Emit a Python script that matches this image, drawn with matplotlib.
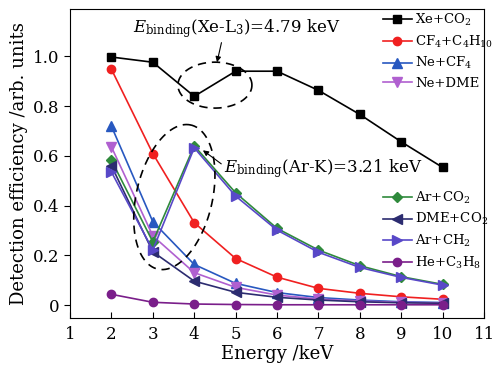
import numpy as np
import matplotlib
matplotlib.use("Agg")
import matplotlib.pyplot as plt

plt.rcParams['font.family'] = ['DejaVu Serif']
plt.rcParams['mathtext.fontset'] = 'dejavuserif'

energy = [2, 3, 4, 5, 6, 7, 8, 9, 10]

xe_co2 = [0.997, 0.976, 0.839, 0.940, 0.940, 0.863, 0.766, 0.656, 0.553]
cf4_c4h10 = [0.948, 0.609, 0.331, 0.187, 0.112, 0.067, 0.047, 0.033, 0.023]
ne_cf4 = [0.719, 0.335, 0.163, 0.087, 0.050, 0.030, 0.020, 0.013, 0.010]
ne_dme = [0.636, 0.278, 0.130, 0.071, 0.040, 0.024, 0.016, 0.011, 0.008]
ar_co2 = [0.582, 0.254, 0.640, 0.451, 0.308, 0.221, 0.158, 0.114, 0.083]
dme_co2 = [0.560, 0.214, 0.096, 0.051, 0.031, 0.020, 0.013, 0.009, 0.007]
ar_ch2 = [0.535, 0.221, 0.632, 0.438, 0.301, 0.212, 0.151, 0.111, 0.080]
he_c3h8 = [0.043, 0.011, 0.004, 0.002, 0.001, 0.001, 0.001, 0.001, 0.001]

fig = plt.figure(figsize=(4.95, 3.68), dpi=100)
ax = fig.add_axes([0.1414, 0.136, 0.8366, 0.8395])

l1, = ax.plot(energy, xe_co2, '-s', color='black', ms=5.5, lw=1.2, label=r'Xe+CO$_2$')
l2, = ax.plot(energy, cf4_c4h10, '-o', color='#f02020', ms=6, lw=1.2, label=r'CF$_4$+C$_4$H$_{10}$')
l3, = ax.plot(energy, ne_cf4, '-^', color='#2858c0', ms=6.5, lw=1.2, label=r'Ne+CF$_4$')
l4, = ax.plot(energy, ne_dme, '-v', color='#b060d0', ms=6.5, lw=1.2, label='Ne+DME')
l5, = ax.plot(energy, ar_co2, '-D', color='#2f8a3c', ms=5, lw=1.2, label=r'Ar+CO$_2$')
l6, = ax.plot(energy, dme_co2, '-<', color='#2c2c70', ms=6.5, lw=1.2, label=r'DME+CO$_2$')
l7, = ax.plot(energy, ar_ch2, '->', color='#5848c8', ms=6.5, lw=1.2, label=r'Ar+CH$_2$')
l8, = ax.plot(energy, he_c3h8, '-o', color='#7a1e8a', ms=6, lw=1.2, label=r'He+C$_3$H$_8$')

ax.set_xlim(1, 11)
ax.set_ylim(-0.052, 1.19)
ax.set_xticks(range(1, 12))
ax.set_yticks([0, 0.2, 0.4, 0.6, 0.8, 1.0])
ax.set_yticklabels(['0', '0.2', '0.4', '0.6', '0.8', '1.0'])
ax.tick_params(axis='x', direction='in', length=4, labelsize=12, pad=6)
ax.tick_params(axis='y', direction='out', length=4, labelsize=12)
ax.set_xlabel('Energy /keV', fontsize=13, labelpad=1)
ax.set_ylabel('Detection efficiency /arb. units', fontsize=13, labelpad=4)

leg_kw = dict(loc='upper left', frameon=False, fontsize=9.5, handlelength=2.2,
              handletextpad=0.25, labelspacing=0.42, borderpad=0, borderaxespad=0)
leg1 = ax.legend(handles=[l1, l2, l3, l4], bbox_to_anchor=(0.755, 0.99), **leg_kw)
ax.add_artist(leg1)
ax.legend(handles=[l5, l6, l7, l8], bbox_to_anchor=(0.755, 0.415), **leg_kw)


def dashed_ellipse(cx, cy, a_px, b_px, angle_deg):
    # ellipse shaped in pixel space, mapped back to data units
    px_x = 41.4
    px_y = 249.0
    t = np.linspace(0, 2 * np.pi, 200)
    th = np.deg2rad(angle_deg)
    u = a_px * np.cos(t)
    v = b_px * np.sin(t)
    dx = u * np.cos(th) - v * np.sin(th)
    dy = u * np.sin(th) + v * np.cos(th)
    ax.plot(cx + dx / px_x, cy + dy / px_y, '--', color='black', lw=1.2, dashes=(5, 3.5))


dashed_ellipse(4.5, 0.884, 37, 23, 0)
dashed_ellipse(3.52, 0.434, 74, 38, 77)

ax.annotate(r'$E_{\rm binding}$(Xe-L$_3$)=4.79 keV', xy=(4.55, 0.976), xytext=(2.52, 1.112),
            fontsize=12, ha='left', va='center',
            arrowprops=dict(arrowstyle='-|>', color='black', lw=0.8, mutation_scale=8,
                            shrinkA=0, shrinkB=0, relpos=(0.43, 0.0)))
ax.annotate(r'$E_{\rm binding}$(Ar-K)=3.21 keV', xy=(4.21, 0.622), xytext=(4.72, 0.55),
            fontsize=12, ha='left', va='center',
            arrowprops=dict(arrowstyle='-|>', color='black', lw=0.8, mutation_scale=8,
                            shrinkA=0, shrinkB=0, relpos=(0.0, 0.6)))

fig.savefig('out.png', dpi=100)
